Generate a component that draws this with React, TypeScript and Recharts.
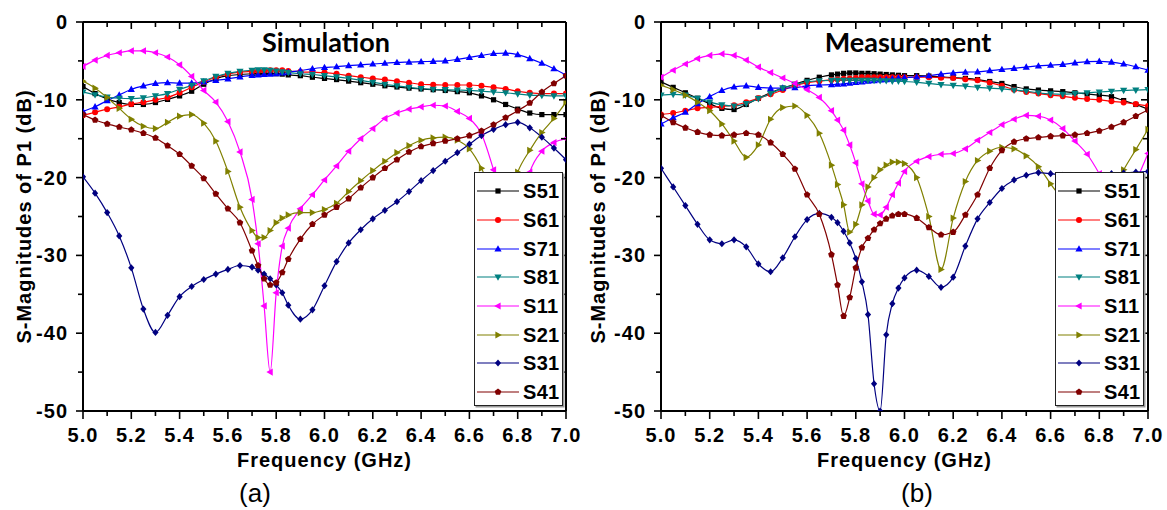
import React from 'react';
import { LineChart, Line, XAxis, YAxis, ReferenceLine, Legend } from 'recharts';

// ---------- data ----------
const simFreq = [5.0, 5.05, 5.1, 5.15, 5.2, 5.25, 5.3, 5.35, 5.4, 5.45, 5.5, 5.55, 5.6, 5.65, 5.7, 5.725, 5.75, 5.775, 5.8, 5.825, 5.85, 5.9, 5.95, 6.0, 6.05, 6.1, 6.15, 6.2, 6.25, 6.3, 6.35, 6.4, 6.45, 6.5, 6.55, 6.6, 6.65, 6.7, 6.75, 6.8, 6.85, 6.9, 6.95, 7.0];

const simS51 = [-8.3, -9.2, -9.9, -10.35, -10.6, -10.6, -10.35, -9.95, -9.5, -8.9, -8.0, -7.3, -6.9, -6.75, -6.65, -6.6, -6.6, -6.6, -6.65, -6.7, -6.8, -6.9, -7.1, -7.25, -7.4, -7.6, -7.8, -8.0, -8.2, -8.35, -8.5, -8.6, -8.7, -8.8, -8.95, -9.1, -9.5, -10.0, -10.6, -11.2, -11.7, -11.9, -11.9, -11.9];
const simS61 = [-12.0, -11.6, -11.2, -10.9, -10.55, -10.3, -10.0, -9.7, -9.1, -8.4, -7.7, -7.1, -6.7, -6.45, -6.35, -6.3, -6.25, -6.2, -6.2, -6.2, -6.3, -6.4, -6.45, -6.5, -6.65, -6.9, -7.1, -7.25, -7.4, -7.6, -7.8, -8.0, -8.05, -8.1, -8.1, -8.1, -8.2, -8.4, -8.6, -8.9, -9.1, -9.2, -9.2, -9.2];
const simS71 = [-11.5, -10.9, -10.1, -9.4, -8.65, -8.2, -7.9, -7.8, -7.85, -7.85, -7.7, -7.5, -7.3, -7.05, -6.85, -6.8, -6.75, -6.7, -6.65, -6.55, -6.45, -6.25, -6.0, -5.85, -5.75, -5.6, -5.5, -5.4, -5.3, -5.2, -5.15, -5.1, -5.05, -5.0, -4.8, -4.55, -4.3, -4.05, -4.0, -4.2, -4.7, -5.3, -6.0, -6.8];
const simS81 = [-9.0, -9.35, -9.65, -9.8, -9.85, -9.75, -9.5, -9.2, -8.65, -8.15, -7.55, -7.0, -6.6, -6.35, -6.2, -6.15, -6.15, -6.2, -6.3, -6.4, -6.5, -6.65, -6.75, -6.9, -7.05, -7.25, -7.5, -7.75, -8.0, -8.2, -8.4, -8.55, -8.65, -8.7, -8.75, -8.8, -8.9, -9.0, -9.1, -9.25, -9.4, -9.45, -9.5, -9.5];
const simS11 = [-5.7, -4.9, -4.3, -3.95, -3.7, -3.7, -3.95, -4.5, -5.5, -7.0, -8.8, -10.3, -12.8, -16.7, -22.8, -28.5, -36.5, -45.0, -34.8, -28.8, -26.5, -24.0, -22.2, -20.3, -18.5, -16.6, -15.0, -13.7, -12.4, -11.7, -11.2, -10.9, -10.7, -10.8, -11.5, -12.4, -14.4, -19.0, -24.5, -26.0, -19.3, -16.6, -15.5, -15.0];
const simS21 = [-7.6, -8.5, -9.7, -11.1, -12.5, -13.4, -13.7, -12.9, -12.1, -11.9, -13.0, -15.3, -19.2, -23.8, -26.8, -27.7, -27.7, -26.8, -25.8, -25.2, -24.8, -24.5, -24.5, -24.1, -23.3, -21.8, -20.4, -19.1, -17.9, -16.8, -15.9, -15.2, -14.9, -14.8, -15.2, -16.3, -18.8, -22.5, -24.5, -19.3, -16.5, -14.2, -12.4, -10.3];
const simS31 = [-19.9, -22.0, -24.5, -27.5, -31.6, -36.9, -39.9, -37.7, -35.3, -34.0, -33.1, -32.4, -31.8, -31.3, -31.5, -31.9, -32.4, -33.0, -33.8, -34.8, -36.4, -38.2, -37.0, -33.9, -30.8, -28.4, -26.7, -25.3, -24.2, -23.1, -21.8, -20.4, -19.1, -17.9, -16.8, -15.7, -14.6, -13.8, -13.2, -12.9, -13.6, -14.8, -16.2, -17.7];
const simS41 = [-11.9, -12.6, -13.1, -13.5, -13.85, -14.3, -14.9, -15.9, -17.0, -18.5, -20.1, -22.1, -24.0, -25.8, -29.4, -31.3, -33.0, -33.8, -33.5, -32.2, -30.5, -27.9, -26.0, -24.8, -23.8, -22.7, -21.3, -20.0, -18.8, -17.7, -16.7, -16.0, -15.6, -15.3, -15.0, -14.6, -14.0, -13.2, -12.3, -11.4, -10.4, -9.0, -7.9, -6.9];

const measFreq = [5.0, 5.05, 5.1, 5.15, 5.2, 5.25, 5.3, 5.35, 5.4, 5.45, 5.5, 5.55, 5.6, 5.65, 5.7, 5.725, 5.75, 5.775, 5.8, 5.825, 5.85, 5.875, 5.9, 5.925, 5.95, 5.975, 6.0, 6.05, 6.1, 6.15, 6.2, 6.25, 6.3, 6.35, 6.4, 6.45, 6.5, 6.55, 6.6, 6.65, 6.7, 6.75, 6.8, 6.85, 6.9, 6.95, 7.0];

const measS51 = [-7.7, -8.4, -9.1, -9.8, -10.5, -11.1, -11.25, -10.6, -9.8, -9.1, -8.5, -8.0, -7.5, -7.1, -6.8, -6.7, -6.6, -6.55, -6.55, -6.6, -6.6, -6.65, -6.7, -6.75, -6.8, -6.85, -6.9, -6.9, -6.95, -7.05, -7.15, -7.25, -7.4, -7.65, -7.9, -8.3, -8.6, -8.75, -8.85, -8.95, -9.1, -9.25, -9.4, -9.6, -10.1, -10.6, -11.2];
const measS61 = [-11.9, -11.7, -11.4, -11.1, -10.95, -10.85, -10.7, -10.3, -9.8, -9.3, -8.75, -8.2, -7.8, -7.6, -7.45, -7.4, -7.3, -7.25, -7.2, -7.1, -7.1, -7.1, -7.1, -7.1, -7.1, -7.1, -7.1, -7.1, -7.1, -7.15, -7.2, -7.35, -7.5, -7.8, -8.2, -8.7, -9.0, -9.2, -9.4, -9.55, -9.75, -9.9, -10.0, -10.2, -10.35, -10.55, -10.8];
const measS71 = [-13.1, -12.3, -11.6, -10.5, -9.6, -8.8, -8.35, -8.2, -8.4, -8.5, -8.5, -8.45, -8.2, -8.1, -8.05, -8.0, -7.95, -7.85, -7.75, -7.7, -7.6, -7.55, -7.45, -7.4, -7.3, -7.2, -7.15, -7.05, -6.9, -6.7, -6.55, -6.45, -6.4, -6.25, -6.1, -5.95, -5.8, -5.65, -5.55, -5.45, -5.25, -5.1, -5.05, -5.15, -5.4, -5.75, -6.2];
const measS81 = [-9.4, -9.3, -9.4, -9.8, -10.3, -10.65, -10.8, -10.5, -9.85, -9.2, -8.5, -8.05, -7.7, -7.55, -7.5, -7.5, -7.5, -7.5, -7.5, -7.5, -7.5, -7.5, -7.55, -7.55, -7.6, -7.6, -7.65, -7.75, -7.9, -8.05, -8.15, -8.25, -8.4, -8.5, -8.6, -8.75, -8.9, -9.1, -9.25, -9.3, -9.2, -9.1, -9.0, -8.9, -8.8, -8.75, -8.7];
const measS11 = [-7.1, -6.2, -5.4, -4.7, -4.3, -4.1, -4.3, -4.9, -5.8, -6.5, -7.2, -7.9, -8.7, -9.7, -11.4, -12.6, -13.9, -15.8, -18.1, -20.8, -23.0, -24.7, -24.8, -23.8, -22.2, -20.7, -19.2, -17.9, -17.3, -17.0, -16.9, -16.3, -15.2, -14.2, -13.2, -12.5, -12.0, -12.1, -12.6, -13.7, -15.3, -17.0, -19.5, -22.5, -23.5, -20.5, -16.9];
const measS21 = [-8.1, -8.7, -9.4, -10.3, -11.4, -13.1, -15.3, -17.4, -15.8, -12.5, -11.0, -10.8, -12.0, -14.3, -18.4, -20.9, -23.5, -27.0, -26.0, -23.5, -21.2, -20.0, -19.0, -18.4, -18.0, -18.0, -18.2, -20.0, -25.0, -31.8, -25.2, -20.5, -17.8, -16.6, -16.1, -16.3, -17.2, -18.6, -20.8, -23.0, -25.5, -26.5, -25.0, -22.0, -19.0, -16.4, -13.8];
const measS31 = [-18.8, -21.2, -23.6, -26.0, -28.0, -28.5, -28.0, -28.9, -31.1, -32.1, -30.3, -27.6, -25.4, -24.6, -25.1, -25.8, -26.9, -28.4, -30.4, -33.4, -37.6, -46.5, -50.0, -40.2, -36.2, -34.2, -32.9, -31.9, -32.7, -34.1, -32.8, -28.8, -25.3, -23.2, -21.4, -20.3, -19.7, -19.35, -19.5, -19.7, -19.8, -19.8, -19.7, -19.5, -19.4, -19.3, -19.2];
const measS41 = [-12.0, -12.9, -13.6, -14.15, -14.5, -14.6, -14.5, -14.3, -14.5, -15.5, -17.0, -18.9, -22.2, -24.7, -29.9, -33.8, -37.8, -35.4, -31.6, -29.0, -27.8, -26.7, -25.9, -25.3, -24.9, -24.7, -24.7, -25.2, -26.4, -27.35, -27.0, -24.8, -22.2, -18.8, -16.5, -15.4, -15.0, -14.85, -14.7, -14.6, -14.5, -14.3, -14.0, -13.5, -12.9, -12.1, -11.3];

const seriesNames = ['S51', 'S61', 'S71', 'S81', 'S11', 'S21', 'S31', 'S41'];
const seriesColors = ['#000000', '#ff0000', '#0000ff', '#008080', '#ff00ff', '#808000', '#000080', '#800000'];
const seriesMarkers = ['square', 'circle', 'up', 'down', 'left', 'right', 'diamond', 'pentagon'];

const xTicks = [5.0, 5.1, 5.2, 5.3, 5.4, 5.5, 5.6, 5.7, 5.8, 5.9, 6.0, 6.1, 6.2, 6.3, 6.4, 6.5, 6.6, 6.7, 6.8, 6.9, 7.0];
const yTicks = [-50, -45, -40, -35, -30, -25, -20, -15, -10, -5, 0];

function buildRows(freq: number[], cols: number[][]) {
  return freq.map((f, i) => {
    const row: any = { f };
    seriesNames.forEach((n, k) => {
      row[n] = cols[k][i];
    });
    return row;
  });
}

const simRows = buildRows(simFreq, [simS51, simS61, simS71, simS81, simS11, simS21, simS31, simS41]);
const measRows = buildRows(measFreq, [measS51, measS61, measS71, measS81, measS11, measS21, measS31, measS41]);

// ---------- styling ----------
const FONT = "'Liberation Sans', Arial, Helvetica, sans-serif";
const H = 510;

function Marker({ kind, cx, cy, color }: { kind: string; cx: number; cy: number; color: string }) {
  const p = (pts: number[][]) => pts.map((q) => `${cx + q[0]},${cy + q[1]}`).join(' ');
  switch (kind) {
    case 'square':
      return <rect x={cx - 2.6} y={cy - 2.6} width={5.2} height={5.2} fill={color} />;
    case 'circle':
      return <circle cx={cx} cy={cy} r={3} fill={color} />;
    case 'up':
      return <polygon points={p([[0, -3.8], [-3.6, 2.6], [3.6, 2.6]])} fill={color} />;
    case 'down':
      return <polygon points={p([[0, 3.8], [-3.6, -2.6], [3.6, -2.6]])} fill={color} />;
    case 'left':
      return <polygon points={p([[-3.8, 0], [2.6, -3.6], [2.6, 3.6]])} fill={color} />;
    case 'right':
      return <polygon points={p([[3.8, 0], [-2.6, -3.6], [-2.6, 3.6]])} fill={color} />;
    case 'diamond':
      return <polygon points={p([[0, -3.6], [3.1, 0], [0, 3.6], [-3.1, 0]])} fill={color} />;
    default: {
      const pts: number[][] = [];
      for (let k = 0; k < 5; k++) {
        const a = -Math.PI / 2 + (k * 2 * Math.PI) / 5;
        pts.push([3.5 * Math.cos(a), 3.5 * Math.sin(a)]);
      }
      return <polygon points={p(pts)} fill={color} />;
    }
  }
}

function makeDot(kind: string, color: string) {
  return (props: any) => {
    const { cx, cy, index } = props;
    if (cx == null || cy == null || isNaN(cx) || isNaN(cy)) return <g key={`d-${index}`} />;
    return (
      <g key={`d-${index}`}>
        <Marker kind={kind} cx={cx} cy={cy} color={color} />
      </g>
    );
  };
}

const tickText = { fontFamily: FONT, fontWeight: 700, fontSize: 20, fill: '#000', letterSpacing: 1 } as const;

function renderLegend(props: any) {
  const colorOf: Record<string, string> = {};
  (props.payload || []).forEach((p: any) => {
    colorOf[p.value] = p.color;
  });
  return (
    <div
      style={{
        width: 89,
        height: 234,
        boxSizing: 'border-box',
        border: '1.5px solid #222',
        boxShadow: '1.5px 1.5px 0 #999',
        background: '#fff',
        paddingTop: 4,
      }}
    >
      {seriesNames.map((n, i) => {
        const c = colorOf[n] || seriesColors[i];
        return (
          <div key={n} style={{ height: 28.7, display: 'flex', alignItems: 'center' }}>
            <svg width={48} height={14} style={{ display: 'block' }}>
              <line x1={2} x2={44} y1={7} y2={7} stroke={c} strokeWidth={1.2} />
              <Marker kind={seriesMarkers[i]} cx={23} cy={7} color={c} />
            </svg>
            <span style={{ fontFamily: FONT, fontWeight: 700, fontSize: 20, letterSpacing: 0.3, color: '#000', lineHeight: '20px' }}>
              {n}
            </span>
          </div>
        );
      })}
    </div>
  );
}

type PanelProps = {
  rows: any[];
  left: number;
  width: number;
  plotLeft: number;
  plotRight: number;
  plotTop: number;
  plotBottom: number;
  yTitleX: number;
  legendLeft: number;
  legendTop: number;
};

function Panel({ rows, left, width, plotLeft, plotRight, plotTop, plotBottom, yTitleX, legendLeft, legendTop }: PanelProps) {
  const plotW = plotRight - plotLeft;
  const plotH = plotBottom - plotTop;

  const xTick = (p: any) => {
    const v = p.payload.value;
    const major = Math.round(v * 10) % 2 === 0;
    return (
      <g>
        <line x1={p.x} x2={p.x} y1={p.y} y2={p.y + (major ? 8 : 5)} stroke="#000" strokeWidth={1.6} />
        <line x1={p.x} x2={p.x} y1={p.y - plotH} y2={p.y - plotH + (major ? 7 : 5)} stroke="#000" strokeWidth={1.6} />
        {major && (
          <text x={p.x} y={p.y + 31} textAnchor="middle" style={tickText}>
            {v.toFixed(1)}
          </text>
        )}
      </g>
    );
  };

  const yTick = (p: any) => {
    const v = p.payload.value;
    const major = v % 10 === 0;
    return (
      <g>
        <line x1={p.x - (major ? 7 : 5)} x2={p.x} y1={p.y} y2={p.y} stroke="#000" strokeWidth={1.6} />
        <line x1={p.x + plotW} x2={p.x + plotW - (major ? 7 : 5)} y1={p.y} y2={p.y} stroke="#000" strokeWidth={1.6} />
        {major && (
          <text x={p.x - 15} y={p.y + 7} textAnchor="end" style={tickText}>
            {v}
          </text>
        )}
      </g>
    );
  };

  const xTitle = (p: any) => {
    const vb = p.viewBox || { x: plotLeft, y: plotBottom, width: plotW };
    return (
      <text x={vb.x + vb.width / 2} y={plotBottom + 56} textAnchor="middle" style={tickText}>
        Frequency (GHz)
      </text>
    );
  };

  const yTitle = () => {
    const cy = plotTop + plotH / 2;
    return (
      <text
        transform={`translate(${yTitleX + 7},${cy}) rotate(-90)`}
        textAnchor="middle"
        style={{ ...tickText, letterSpacing: 1 }}
      >
        S-Magnitudes of P1 (dB)
      </text>
    );
  };

  return (
    <div style={{ position: 'absolute', left, top: 0, width, height: H }}>
      <LineChart width={width} height={H} data={rows} margin={{ top: plotTop, right: width - plotRight, bottom: 0, left: 0 }}>
        <XAxis
          dataKey="f"
          type="number"
          domain={[5, 7]}
          ticks={xTicks}
          interval={0}
          allowDataOverflow
          height={H - plotBottom}
          tickSize={0}
          tickMargin={0}
          tickLine={false}
          axisLine={{ stroke: '#000', strokeWidth: 2 }}
          tick={xTick}
          label={{ content: xTitle }}
        />
        <YAxis
          type="number"
          domain={[-50, 0]}
          ticks={yTicks}
          interval={0}
          allowDataOverflow
          width={plotLeft}
          tickSize={0}
          tickMargin={0}
          tickLine={false}
          axisLine={{ stroke: '#000', strokeWidth: 2 }}
          tick={yTick}
          label={{ content: yTitle }}
        />
        {seriesNames.map((n, i) => (
          <Line
            key={n}
            dataKey={n}
            name={n}
            stroke={seriesColors[i]}
            strokeWidth={1.2}
            dot={makeDot(seriesMarkers[i], seriesColors[i])}
            activeDot={false}
            isAnimationActive={false}
            type="monotone"
          />
        ))}
        <ReferenceLine y={0} stroke="#000" strokeWidth={2} />
        <ReferenceLine x={7} stroke="#000" strokeWidth={2} />
        <Legend
          content={renderLegend}
          layout="vertical"
          align="center"
          verticalAlign="middle"
          wrapperStyle={{ left: legendLeft, top: legendTop, width: 89, height: 234 }}
        />
      </LineChart>
    </div>
  );
}

export default function App() {
  return (
    <div style={{ position: 'absolute', left: 0, top: 0, width: 1167, height: H, background: '#fff', overflow: 'hidden' }}>
      <Panel rows={simRows} left={0} width={590} plotLeft={83} plotRight={566} plotTop={22} plotBottom={411} yTitleX={24} legendLeft={474} legendTop={172} />
      <Panel rows={measRows} left={580} width={587} plotLeft={81} plotRight={568} plotTop={22} plotBottom={411} yTitleX={18} legendLeft={475} legendTop={172} />
      <svg width={1167} height={H} style={{ position: 'absolute', left: 0, top: 0, pointerEvents: 'none' }}>
        <text x={326} y={52} textAnchor="middle" style={{ fontFamily: "Lato, 'Open Sans', sans-serif", fontWeight: 700, fontSize: 27, fill: '#000' }}>
          Simulation
        </text>
        <text x={908} y={52} textAnchor="middle" style={{ fontFamily: "Lato, 'Open Sans', sans-serif", fontWeight: 700, fontSize: 27, fill: '#000' }}>
          Measurement
        </text>
        <text x={255} y={502} textAnchor="middle" style={{ fontFamily: FONT, fontSize: 26, fill: '#000' }}>
          (a)
        </text>
        <text x={917} y={502} textAnchor="middle" style={{ fontFamily: FONT, fontSize: 26, fill: '#000' }}>
          (b)
        </text>
      </svg>
    </div>
  );
}
